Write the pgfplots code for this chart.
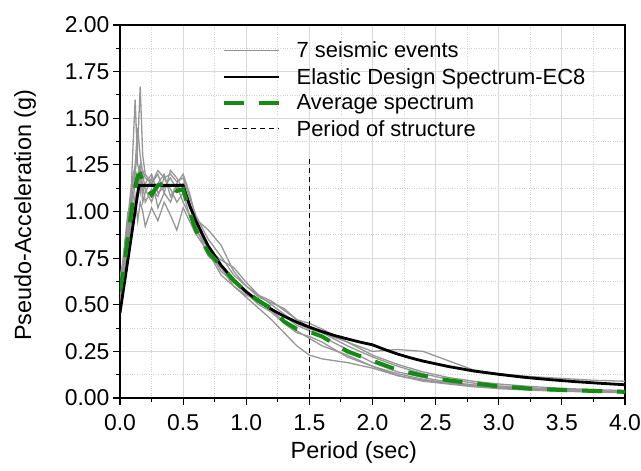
\documentclass[border=0pt]{standalone}
\usepackage{fontspec}
\setmainfont{Liberation Sans}
\usepackage{pgfplots}
\usepackage{pgfplotstable}
\pgfplotsset{compat=1.18}

\definecolor{evgray}{RGB}{150,150,150}
\definecolor{avggreen}{RGB}{20,140,20}

% spectra of the 7 records
\pgfplotstableread{
T    e1    e2    e3    e4    e5    e6    e7
0.00 0.50  0.55  0.60  0.52  0.58  0.62  0.65
0.02 0.58  0.62  0.68  0.60  0.66  0.70  0.72
0.04 0.70  0.72  0.78  0.68  0.75  0.82  0.85
0.06 0.85  0.80  0.92  0.80  0.88  0.95  0.98
0.08 0.98  0.95  1.02  0.90  1.05  1.08  0.90
0.10 1.30  1.10  1.10  0.98  1.15  1.18  1.05
0.12 1.60  1.20  1.05  1.08  1.22  1.25  1.15
0.14 1.25  1.35  1.12  0.95  1.18  1.45  1.20
0.16 1.20  1.67  1.18  1.05  1.10  1.30  1.25
0.18 1.15  1.30  1.10  1.00  1.22  1.20  1.05
0.20 1.05  1.20  1.15  0.92  1.18  1.12  1.10
0.25 1.12  1.15  1.20  1.02  1.15  1.05  1.18
0.30 1.08  1.22  1.10  0.95  1.20  1.15  1.02
0.35 1.18  1.18  1.13  1.05  1.10  1.20  1.10
0.40 1.12  1.20  1.18  0.98  1.22  1.08  1.05
0.45 1.05  1.16  1.12  0.90  1.18  1.14  1.15
0.50 1.10  1.18  1.15  1.02  1.12  1.05  1.20
0.55 0.98  1.08  1.05  0.95  1.02  0.98  1.10
0.60 0.90  0.98  0.93  0.88  0.96  0.92  0.97
0.70 0.80  0.85  0.80  0.78  0.90  0.76  0.80
0.80 0.68  0.76  0.74  0.66  0.82  0.70  0.70
0.90 0.62  0.66  0.70  0.60  0.68  0.64  0.60
1.00 0.56  0.60  0.62  0.54  0.60  0.57  0.55
1.10 0.50  0.55  0.55  0.48  0.54  0.52  0.53
1.20 0.46  0.50  0.52  0.42  0.51  0.47  0.48
1.30 0.40  0.45  0.47  0.35  0.48  0.41  0.44
1.40 0.35  0.40  0.42  0.28  0.42  0.36  0.39
1.50 0.33  0.37  0.38  0.23  0.40  0.32  0.36
1.60 0.30  0.35  0.35  0.21  0.37  0.28  0.33
1.80 0.22  0.28  0.30  0.19  0.30  0.23  0.26
2.00 0.17  0.22  0.25  0.16  0.23  0.17  0.19
2.20 0.13  0.17  0.26  0.12  0.18  0.12  0.14
2.40 0.10  0.13  0.25  0.09  0.14  0.095 0.11
2.60 0.08  0.10  0.20  0.075 0.11  0.08  0.085
2.80 0.065 0.08  0.15  0.06  0.09  0.07  0.07
3.00 0.055 0.065 0.13  0.05  0.075 0.06  0.06
3.25 0.045 0.055 0.115 0.042 0.062 0.05  0.05
3.50 0.040 0.045 0.105 0.036 0.052 0.042 0.045
3.75 0.035 0.040 0.095 0.032 0.045 0.036 0.040
4.00 0.030 0.035 0.090 0.028 0.040 0.030 0.035
}\events

\pgfplotstableread{
T    avg
0.00 0.57
0.02 0.65
0.04 0.74
0.06 0.85
0.08 0.95
0.10 1.05
0.12 1.13
0.14 1.19
0.16 1.20
0.18 1.16
0.20 1.14
0.25 1.09
0.30 1.14
0.35 1.15
0.40 1.14
0.45 1.11
0.50 1.12
0.55 1.00
0.60 0.90
0.70 0.78
0.80 0.71
0.90 0.63
1.00 0.57
1.10 0.52
1.20 0.48
1.30 0.41
1.40 0.37
1.50 0.355
1.60 0.33
1.80 0.25
2.00 0.20
2.20 0.15
2.40 0.12
2.60 0.095
2.80 0.078
3.00 0.063
3.25 0.050
3.50 0.043
3.75 0.038
4.00 0.033
}\average

\begin{document}
\begin{tikzpicture}
\path[use as bounding box] (-120bp,-73bp) rectangle (521bp,398bp);
\begin{axis}[
    scale only axis,
    width=505bp, height=373bp,
    xmin=0, xmax=4, ymin=0, ymax=2,
    xtick={0,0.5,1,1.5,2,2.5,3,3.5,4},
    ytick={0,0.25,0.5,0.75,1,1.25,1.5,1.75,2},
    minor x tick num=1, minor y tick num=1,
    tick align=outside,
    xtick pos=left, ytick pos=left,
    major tick length=7bp, minor tick length=4bp,
    tick style={black, line width=1.1bp},
    axis line style={black, line width=1.3bp},
    grid=both,
    major grid style={gray!30, line width=0.8bp},
    minor grid style={gray!35, dotted, line width=0.8bp},
    tick label style={font=\fontsize{23}{27}\selectfont},
    /pgf/number format/assume math mode=true,
    xticklabel style={yshift=-6bp, /pgf/number format/.cd, fixed, fixed zerofill, precision=1},
    yticklabel style={/pgf/number format/.cd, fixed, fixed zerofill, precision=2},
    xlabel={Period (sec)},
    ylabel={Pseudo-Acceleration (g)},
    label style={font=\fontsize{23.5}{27}\selectfont},
    xlabel style={at={(axis description cs:0.463,-0.147)}, anchor=center},
    ylabel style={at={(axis description cs:-0.188,0.49)}, anchor=center},
    legend style={draw=none, fill=none,
        at={(axis description cs:0.195,0.966)}, anchor=north west,
        font=\fontsize{22}{26}\selectfont, row sep=5bp},
    legend cell align=left,
    legend image code/.code={\draw[#1] (0bp,0bp) -- (55bp,0bp); \path (69bp,0bp);},
]
\addplot[evgray, line width=1.3bp] table[x=T, y=e1] {\events};
\addlegendentry{7 seismic events}
\addplot[evgray, line width=1.3bp, forget plot] table[x=T, y=e2] {\events};
\addplot[evgray, line width=1.3bp, forget plot] table[x=T, y=e3] {\events};
\addplot[evgray, line width=1.3bp, forget plot] table[x=T, y=e4] {\events};
\addplot[evgray, line width=1.3bp, forget plot] table[x=T, y=e5] {\events};
\addplot[evgray, line width=1.3bp, forget plot] table[x=T, y=e6] {\events};
\addplot[evgray, line width=1.3bp, forget plot] table[x=T, y=e7] {\events};

\addplot[black, line width=2.8bp] coordinates {
    (0,0.456) (0.15,1.14) (0.5,1.14) (0.55,1.036) (0.6,0.95) (0.7,0.814)
    (0.8,0.7125) (0.9,0.633) (1.0,0.57) (1.1,0.518) (1.2,0.475) (1.3,0.438)
    (1.4,0.407) (1.5,0.38) (1.6,0.356) (1.7,0.335) (1.8,0.317) (1.9,0.300)
    (2.0,0.285) (2.1,0.259) (2.2,0.2355) (2.3,0.2155) (2.4,0.198) (2.6,0.169)
    (2.8,0.145) (3.0,0.127) (3.2,0.111) (3.4,0.0986) (3.6,0.088) (3.8,0.079)
    (4.0,0.071)};
\addlegendentry{Elastic Design Spectrum-EC8}

\addplot[avggreen, line width=4bp, dash pattern=on 20bp off 15bp] table[x=T, y=avg] {\average};
\addlegendentry{Average spectrum}

\addplot[black, line width=0.8bp, dash pattern=on 5bp off 4bp] coordinates {(1.5,0) (1.5,1.28)};
\addlegendentry{Period of structure}
\end{axis}
\end{tikzpicture}
\end{document}
